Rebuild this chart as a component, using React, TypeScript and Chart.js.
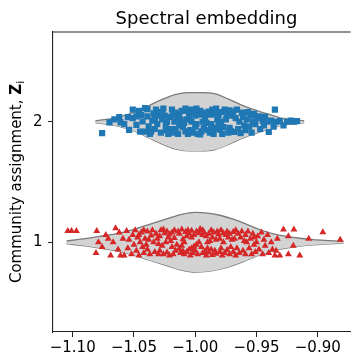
import { useEffect, useRef } from 'react';
import { Chart, registerables } from 'chart.js';
Chart.register(...registerables);

const FONT = "'DejaVu Sans', sans-serif";

const titleText = 'Spectral embedding';
const yLabelMain = 'Community assignment, ';
const yLabelBold = 'Z';
const yLabelSub = 'i';

const xTickValues = [-1.1, -1.05, -1.0, -0.95, -0.9];
const yTickValues = [1, 2];

// Violin outlines (x position, half width)
const blueViolinX = [-1.0815, -1.0648, -1.0487, -1.038, -1.0273, -1.0166, -1.0058, -0.9951, -0.9844, -0.9737, -0.963, -0.9522, -0.9415, -0.9308, -0.92, -0.9111];
const blueViolinHW = [0.008, 0.033, 0.083, 0.133, 0.183, 0.225, 0.242, 0.242, 0.233, 0.192, 0.142, 0.1, 0.067, 0.033, 0.017, 0.008];
const redViolinX = [-1.1051, -1.0917, -1.0783, -1.0649, -1.0515, -1.038, -1.0246, -1.0112, -1.0005, -0.9898, -0.979, -0.9683, -0.9576, -0.9468, -0.9361, -0.9254, -0.9147, -0.9039, -0.8905, -0.879];
const redViolinHW = [0.011, 0.028, 0.048, 0.069, 0.103, 0.147, 0.189, 0.231, 0.248, 0.242, 0.222, 0.189, 0.147, 0.103, 0.069, 0.048, 0.033, 0.022, 0.014, 0.008];

const blueCenter = 2;
const redCenter = 1;

const blueX = [
  -1.076, -1.070,
  -1.062, -1.061, -1.066,
  -1.055, -1.054, -1.051, -1.051, -1.058,
  -1.048, -1.048, -1.045, -1.044, -1.043, -1.041, -1.041, -1.046,
  -1.039, -1.039, -1.038, -1.036, -1.035, -1.034, -1.033, -1.032, -1.031, -1.030, -1.037, -1.033,
  -1.029, -1.028, -1.027, -1.026, -1.025, -1.024, -1.023, -1.022, -1.021, -1.027, -1.024, -1.020,
  -1.019, -1.018, -1.018, -1.017, -1.016, -1.015, -1.014, -1.013, -1.013, -1.012, -1.011, -1.010, -1.016,
  -1.009, -1.008, -1.008, -1.007, -1.006, -1.006, -1.005, -1.004, -1.003, -1.003, -1.002, -1.001, -1.000, -1.000,
  -0.999, -0.999, -0.998, -0.997, -0.996, -0.995, -0.994, -0.994, -0.993, -0.992, -0.991, -0.991, -0.990, -0.996,
  -0.989, -0.988, -0.987, -0.987, -0.986, -0.985, -0.984, -0.983, -0.983, -0.982, -0.981, -0.981, -0.980, -0.986,
  -0.979, -0.979, -0.978, -0.977, -0.976, -0.975, -0.974, -0.973, -0.972, -0.972, -0.971, -0.970,
  -0.969, -0.968, -0.967, -0.966, -0.965, -0.964, -0.963, -0.962, -0.961, -0.960,
  -0.959, -0.958, -0.957, -0.956, -0.955, -0.954, -0.953, -0.952, -0.951, -0.950,
  -0.948, -0.947, -0.945, -0.944, -0.943, -0.941, -0.940,
  -0.938, -0.936, -0.935, -0.934, -0.931,
  -0.925, -0.922, -0.928,
  -0.9195, -0.917,
];
const blueJitter = [
  -0.094, -0.006,
  0.039, -0.006, 0.02,
  0.039, -0.067, 0.1, 0.03, -0.02,
  0.044, -0.025, -0.081, 0.058, 0.003, -0.081, 0.114, 0.09,
  0.044, 0.105, -0.039, -0.081, 0.01, 0.07, -0.06, 0.1, -0.02, 0.05, -0.1, 0.03,
  0.08, -0.09, 0.02, 0.11, 0.05, -0.07, 0.0, -0.1, 0.04, 0.065, -0.03, -0.06,
  0.1, 0.05, -0.09, 0.0, 0.075, 0.03, -0.1, -0.03, 0.06, 0.015, 0.09, -0.045, -0.06,
  -0.01, -0.08, 0.11, 0.02, 0.09, -0.1, 0.04, -0.07, 0.0, 0.1, -0.09, 0.08, -0.04, 0.05,
  0.11, -0.02, -0.1, 0.06, 0.09, -0.08, 0.0, 0.075, -0.05, 0.03, -0.01, 0.065, -0.07, -0.105,
  0.085, -0.09, 0.06, -0.02, 0.1, -0.1, 0.07, -0.05, 0.11, 0.02, 0.05, -0.03, -0.065, -0.06,
  0.0, 0.08, -0.1, -0.045, 0.1, 0.02, 0.065, -0.09, -0.05, 0.095, -0.075, 0.05,
  0.085, -0.085, 0.03, 0.1, -0.06, 0.0, -0.095, 0.075, 0.04, -0.03,
  -0.07, 0.02, 0.08, -0.04, 0.05, -0.09, 0.0, 0.065, -0.02, 0.03,
  0.045, -0.06, 0.01, -0.03, 0.04, 0.0, -0.085,
  0.01, -0.04, 0.1, 0.0, 0.005,
  0.0, 0.01, -0.03,
  0.0, 0.005,
];

const redX = [
  -1.104, -1.101,
  -1.097,
  -1.0804, -1.081,
  -1.079, -1.073, -1.076, -1.071,
  -1.069, -1.065, -1.067, -1.063, -1.062, -1.061,
  -1.059, -1.058, -1.056, -1.055, -1.054, -1.052, -1.051, -1.050,
  -1.049, -1.048, -1.047, -1.046, -1.045, -1.044, -1.043, -1.042, -1.042, -1.041, -1.040, -1.046,
  -1.039, -1.039, -1.038, -1.037, -1.036, -1.035, -1.034, -1.033, -1.032, -1.031, -1.030, -1.030,
  -1.029, -1.029, -1.028, -1.027, -1.026, -1.025, -1.024, -1.023, -1.023, -1.022, -1.021, -1.021, -1.020, -1.026,
  -1.019, -1.019, -1.018, -1.017, -1.017, -1.016, -1.015, -1.014, -1.013, -1.013, -1.012, -1.011, -1.011, -1.010, -1.010,
  -1.009, -1.009, -1.008, -1.007, -1.007, -1.006, -1.005, -1.005, -1.004, -1.003, -1.003, -1.002, -1.001, -1.001, -1.000, -1.003,
  -0.999, -0.999, -0.998, -0.997, -0.997, -0.996, -0.995, -0.994, -0.994, -0.993, -0.992, -0.991, -0.991, -0.990, -0.990, -0.994,
  -0.989, -0.989, -0.988, -0.987, -0.987, -0.986, -0.985, -0.984, -0.983, -0.983, -0.982, -0.981, -0.980, -0.980, -0.986,
  -0.979, -0.979, -0.978, -0.977, -0.977, -0.976, -0.975, -0.974, -0.974, -0.973, -0.972, -0.972, -0.971, -0.970,
  -0.969, -0.969, -0.968, -0.967, -0.967, -0.966, -0.965, -0.964, -0.963, -0.962, -0.961, -0.960,
  -0.959, -0.959, -0.958, -0.957, -0.956, -0.955, -0.954, -0.953, -0.952, -0.952, -0.951, -0.950,
  -0.949, -0.948, -0.946, -0.945, -0.944, -0.943, -0.941, -0.940,
  -0.938, -0.937, -0.935, -0.934, -0.933, -0.931,
  -0.928, -0.924, -0.924, -0.920, -0.9195,
  -0.9147,
  -0.9074,
  -0.8959,
  -0.8817,
];
const redJitter = [
  0.094, 0.094,
  0.094,
  0.094, -0.09,
  0.0, 0.06, -0.04, 0.03,
  -0.11, 0.117, 0.0, -0.06, 0.08, -0.11,
  0.03, -0.11, 0.094, -0.05, 0.02, -0.1, 0.06, -0.02,
  0.1, -0.07, 0.04, -0.11, 0.0, 0.08, -0.04, 0.1, -0.09, 0.03, -0.02, 0.06,
  0.09, -0.06, 0.02, -0.1, 0.055, 0.1, 0.0, -0.08, 0.07, 0.03, -0.1, -0.015,
  0.05, -0.07, 0.1, -0.03, -0.1, 0.075, 0.0, 0.09, -0.085, 0.04, 0.065, -0.11, 0.01, 0.105,
  0.08, -0.04, -0.1, 0.1, 0.035, -0.07, -0.02, 0.09, -0.055, 0.07, -0.09, -0.03, 0.105, -0.075, 0.025,
  0.0, -0.1, 0.085, 0.05, -0.08, 0.1, -0.06, 0.07, -0.11, 0.04, 0.095, -0.09, -0.035, 0.06, -0.07, -0.05,
  0.09, -0.02, -0.1, 0.0, 0.075, 0.11, -0.04, 0.06, -0.09, 0.085, -0.075, -0.11, 0.05, 0.0, -0.05, 0.1,
  0.07, -0.085, 0.01, 0.1, -0.06, -0.105, 0.08, -0.07, 0.02, -0.095, 0.09, 0.065, -0.08, 0.03, 0.04,
  0.1, -0.05, -0.11, 0.0, 0.075, -0.09, 0.06, -0.065, 0.09, 0.04, -0.1, 0.07, -0.04, 0.02,
  0.085, -0.08, 0.03, 0.1, -0.11, -0.05, 0.07, -0.09, 0.04, 0.09, -0.07, 0.01,
  0.06, -0.1, 0.0, 0.09, -0.05, 0.03, -0.1, 0.07, -0.02, 0.04, -0.08, 0.0,
  0.05, -0.06, 0.08, -0.1, 0.02, -0.03, 0.06, -0.09,
  0.0, -0.06, -0.11, -0.07, 0.03, -0.11,
  0.106, 0.05, -0.1, -0.03, 0.106,
  -0.11,
  0.03,
  0.083,
  0.02,
];

const fmtX = (v: number) => (v < 0 ? '\u2212' : '') + Math.abs(v).toFixed(2);

const decorPlugin = {
  id: 'decor',
  afterDraw(chart: any) {
    const { ctx, chartArea } = chart;
    ctx.save();
    ctx.strokeStyle = '#222';
    ctx.lineWidth = 1.1;
    ctx.beginPath();
    ctx.moveTo(chartArea.left, chartArea.top);
    ctx.lineTo(chartArea.right, chartArea.top);
    ctx.stroke();

    ctx.fillStyle = '#000';
    ctx.font = `18px ${FONT}`;
    ctx.textAlign = 'center';
    ctx.textBaseline = 'alphabetic';
    ctx.fillText(titleText, 206.5, 24);

    ctx.translate(21, (chartArea.top + chartArea.bottom) / 2);
    ctx.rotate(-Math.PI / 2);
    ctx.textAlign = 'left';
    const fMain = `15px ${FONT}`;
    const fBold = `bold 15px ${FONT}`;
    const fSub = `10.5px ${FONT}`;
    ctx.font = fMain;
    const w1 = ctx.measureText(yLabelMain).width;
    ctx.font = fBold;
    const w2 = ctx.measureText(yLabelBold).width;
    ctx.font = fSub;
    const w3 = ctx.measureText(yLabelSub).width;
    let x = -(w1 + w2 + w3) / 2;
    ctx.font = fMain;
    ctx.fillText(yLabelMain, x, 0);
    x += w1;
    ctx.font = fBold;
    ctx.fillText(yLabelBold, x, 0);
    x += w2;
    ctx.font = fSub;
    ctx.fillText(yLabelSub, x, 3);
    ctx.restore();
  },
};

export default function App() {
  const ref = useRef<HTMLCanvasElement>(null);
  useEffect(() => {
    document.body.style.margin = '0';
    const violin = (xs: number[], hws: number[], center: number, sign: number, fill: any) => ({
      type: 'line' as const,
      data: xs.map((x, i) => ({ x, y: center + sign * hws[i] })),
      borderColor: '#7a7a7a',
      borderWidth: 1.3,
      backgroundColor: '#d3d3d3',
      fill,
      pointRadius: 0,
      cubicInterpolationMode: 'monotone' as const,
      order: 2,
    });
    const chart = new Chart(ref.current!, {
      type: 'scatter',
      data: {
        datasets: [
          violin(blueViolinX, blueViolinHW, blueCenter, 1, 1) as any,
          violin(blueViolinX, blueViolinHW, blueCenter, -1, false) as any,
          violin(redViolinX, redViolinHW, redCenter, 1, 3) as any,
          violin(redViolinX, redViolinHW, redCenter, -1, false) as any,
          {
            type: 'scatter',
            data: blueX.map((x, i) => ({ x, y: blueCenter + (blueJitter[i] ?? 0) })),
            pointStyle: 'rect',
            pointRadius: 4.4,
            backgroundColor: '#1f77b4',
            borderColor: '#1f77b4',
            borderWidth: 0,
            order: 1,
          },
          {
            type: 'scatter',
            data: redX.map((x, i) => ({ x, y: redCenter + (redJitter[i] ?? 0) })),
            pointStyle: 'triangle',
            pointRadius: 4,
            backgroundColor: '#d62728',
            borderColor: '#d62728',
            borderWidth: 0,
            order: 1,
          },
        ],
      },
      options: {
        responsive: false,
        animation: false,
        devicePixelRatio: 1,
        layout: { padding: { top: 32, left: 0, right: 0, bottom: 0 } },
        plugins: { legend: { display: false }, tooltip: { enabled: false }, title: { display: false } },
        scales: {
          x: {
            type: 'linear',
            min: -1.11608,
            max: -0.87322,
            afterBuildTicks: (s: any) => {
              s.ticks = xTickValues.map((v) => ({ value: v }));
            },
            afterFit: (s: any) => {
              s.height = 26;
            },
            ticks: {
              callback: (v: any) => fmtX(Number(v)),
              font: { family: FONT, size: 15 },
              color: '#000',
              padding: 2,
              maxRotation: 0,
              autoSkip: false,
            },
            grid: { display: true, drawOnChartArea: false, drawTicks: true, tickLength: 5, color: '#222', lineWidth: 1 },
            border: { display: true, color: '#222', width: 1.1 },
          },
          y: {
            type: 'linear',
            min: 0.255,
            max: 2.745,
            afterBuildTicks: (s: any) => {
              s.ticks = yTickValues.map((v) => ({ value: v }));
            },
            afterFit: (s: any) => {
              s.width = 53;
            },
            ticks: {
              callback: (v: any) => String(v),
              font: { family: FONT, size: 15 },
              color: '#000',
              padding: 5.5,
              autoSkip: false,
            },
            grid: { display: true, drawOnChartArea: false, drawTicks: true, tickLength: 5, color: '#222', lineWidth: 1 },
            border: { display: true, color: '#222', width: 1.1 },
          },
        },
      },
      plugins: [decorPlugin],
    } as any);
    return () => chart.destroy();
  }, []);
  return (
    <div style={{ position: 'absolute', left: 0, top: 0, width: 355, height: 358, overflow: 'hidden' }}>
      <canvas ref={ref} width={355} height={358} style={{ width: '355px', height: '358px', display: 'block' }} />
    </div>
  );
}
